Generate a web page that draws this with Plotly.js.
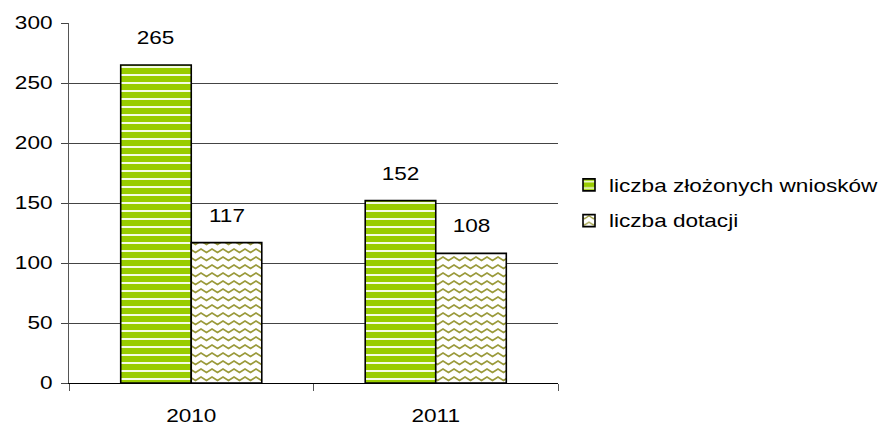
<!DOCTYPE html>
<html>
<head>
<meta charset="utf-8">
<script src="https://cdn.plot.ly/plotly-3.0.1.min.js"></script>
<style>
html,body{margin:0;padding:0;background:#fff;}
#chart{width:881px;height:428px;}
</style>
</head>
<body>
<div id="chart"></div>
<script>
// ---- data ----
var categories = ['2010', '2011'];
var seriesNames = ['liczba złożonych wniosków', 'liczba dotacji'];
var wnioski = [265, 152];
var dotacje = [117, 108];
var yTickVals = [0, 50, 100, 150, 200, 250, 300];

var FONT = 'Liberation Sans, Arial, sans-serif';
var FS = 17.5;
var STRETCH = 1.29;
var BARGAP = 0.423;
var WAVE = '#9a9a3a';

var traces = [
  {
    type: 'bar', name: seriesNames[0], x: categories, y: wnioski,
    legendgroup: 'a',
    marker: {
      color: '#99cc00',
      line: {color: '#000', width: 1.6},
      pattern: {shape: '-', size: 8, solidity: 0.25, fgcolor: '#f4fbe4', bgcolor: '#99cc00', fgopacity: 1}
    },
    hoverinfo: 'skip'
  },
  {
    type: 'bar', name: seriesNames[1], x: categories, y: dotacje,
    legendgroup: 'b',
    marker: {
      color: '#ffffff',
      line: {color: '#000', width: 1.6},
      pattern: {shape: '/', size: 8, solidity: 0.2, fgcolor: WAVE, bgcolor: '#ffffff', fgopacity: 1}
    },
    hoverinfo: 'skip'
  }
];

// value labels above bars
var annotations = [];
var half = (1 - BARGAP) / 4;
[wnioski, dotacje].forEach(function (vals, s) {
  vals.forEach(function (v, i) {
    annotations.push({
      x: i + (s === 0 ? -half : half), y: v, xref: 'x', yref: 'y',
      text: String(v), showarrow: false, yanchor: 'middle', yshift: 27,
      font: {family: FONT, size: FS, color: '#000'}
    });
  });
});

var layout = {
  width: 881, height: 428,
  margin: {l: 69, r: 323, t: 23, b: 45},
  paper_bgcolor: '#fff', plot_bgcolor: '#fff',
  barmode: 'group', bargap: BARGAP, bargroupgap: 0,
  font: {family: FONT, size: FS, color: '#000'},
  showlegend: true,
  legend: {
    x: 1.0225, xanchor: 'left', y: 0.6, yanchor: 'top',
    font: {family: FONT, size: FS, color: '#000'},
    tracegroupgap: 10, itemwidth: 30, bgcolor: 'rgba(0,0,0,0)'
  },
  xaxis: {
    type: 'category', showgrid: false, zeroline: false,
    showline: true, linecolor: '#000', linewidth: 1,
    ticks: 'outside', tickson: 'boundaries', ticklen: 7, tickcolor: '#555', tickwidth: 1,
    ticklabelstandoff: 17,
    tickfont: {family: FONT, size: FS, color: '#000'},
    fixedrange: true
  },
  yaxis: {
    range: [0, 300], tickvals: yTickVals, ticktext: yTickVals.map(String),
    showgrid: true, gridcolor: '#444', gridwidth: 1, zeroline: false,
    showline: true, linecolor: '#555', linewidth: 1,
    ticks: 'outside', ticklen: 7, tickcolor: '#444', tickwidth: 1,
    ticklabelstandoff: 5,
    tickfont: {family: FONT, size: FS, color: '#000'},
    fixedrange: true
  },
  annotations: annotations
};

function fixWaves() {
  var ns = 'http://www.w3.org/2000/svg';
  document.querySelectorAll('pattern').forEach(function (p) {
    if (p.getAttribute('data-wave')) return;
    var html = p.innerHTML.toLowerCase();
    if (html.indexOf('154, 154, 58') < 0 && html.indexOf(WAVE) < 0) return;
    var w = 11, h = 8;
    p.setAttribute('width', w); p.setAttribute('height', h);
    p.setAttribute('data-wave', '1');
    while (p.firstChild) p.removeChild(p.firstChild);
    var r = document.createElementNS(ns, 'rect');
    r.setAttribute('width', w); r.setAttribute('height', h); r.setAttribute('fill', '#fff');
    p.appendChild(r);
    var path = document.createElementNS(ns, 'path');
    path.setAttribute('d', 'M-5.5,5.5 L0,2 L5.5,5.5 L11,2 L16.5,5.5');
    path.setAttribute('fill', 'none');
    path.setAttribute('stroke', WAVE);
    path.setAttribute('stroke-width', '1.6');
    p.appendChild(path);
  });
}

// the reference font is horizontally stretched; scale each text about its anchor x
function stretchText() {
  document.querySelectorAll('#chart .main-svg text').forEach(function (t) {
    if (t.getAttribute('data-st')) return;
    var x = parseFloat(t.getAttribute('x')) || 0;
    var tr = t.getAttribute('transform') || '';
    t.setAttribute('transform', tr + ' translate(' + x + ',0) scale(' + STRETCH + ',1) translate(' + (-x) + ',0)');
    t.setAttribute('data-st', '1');
  });
  document.querySelectorAll('#chart clipPath[id*="legend"] rect').forEach(function (r) {
    r.setAttribute('width', 400);
  });
}

function fixAll() { fixWaves(); stretchText(); }

var gd = document.getElementById('chart');
Plotly.newPlot(gd, traces, layout, {displayModeBar: false, staticPlot: true}).then(function () {
  fixAll();
  gd.on('plotly_afterplot', fixAll);
});
</script>
</body>
</html>
